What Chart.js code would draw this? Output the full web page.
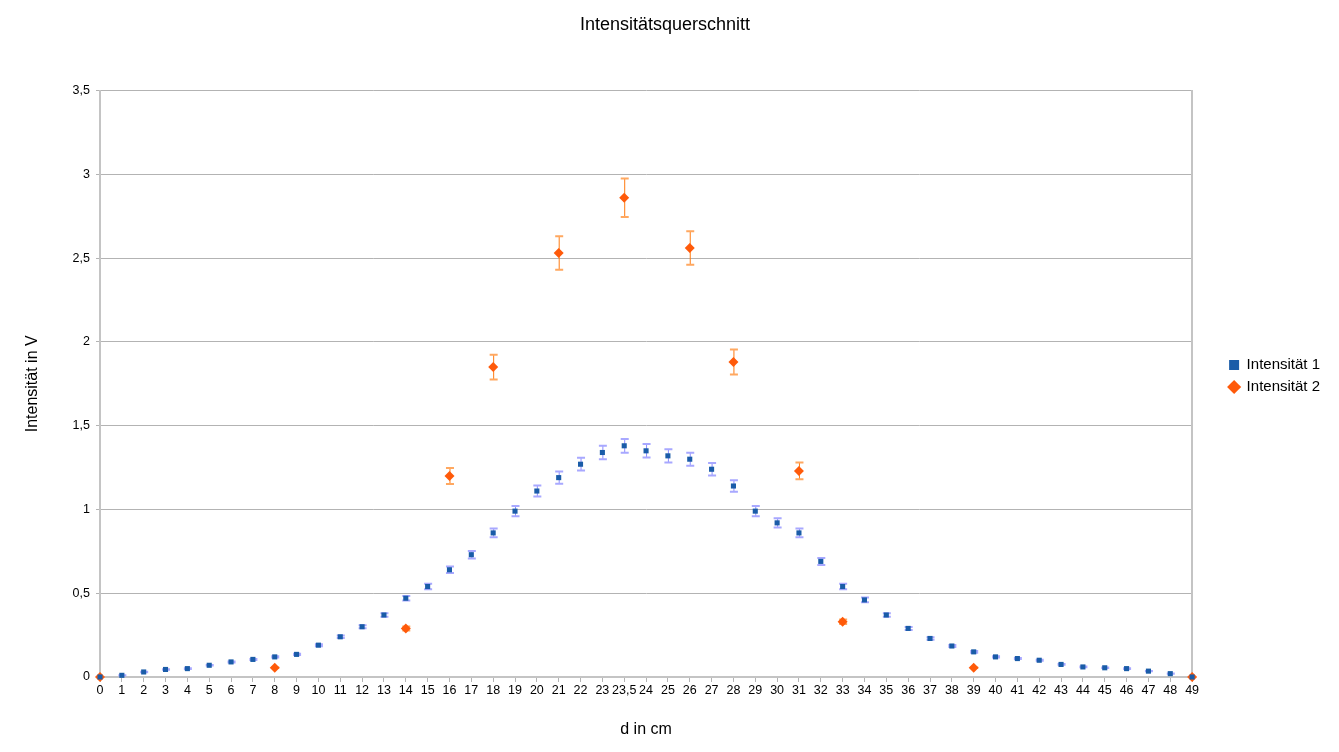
<!DOCTYPE html>
<html>
<head>
<meta charset="utf-8">
<script src="https://cdn.jsdelivr.net/npm/chart.js@4.4.1/dist/chart.umd.min.js"></script>
<style>
  html, body { margin: 0; padding: 0; background: #fff; }
  #wrap { width: 1339px; height: 752px; }
</style>
</head>
<body>
<div id="wrap"><canvas id="grafico"></canvas></div>
<script>
// Abstand d (cm) - Kategorien wie im Original
var labels = ['0', '1', '2', '3', '4', '5', '6', '7', '8', '9',
    '10', '11', '12', '13', '14', '15', '16', '17', '18', '19',
    '20', '21', '22', '23', '23,5', '24', '25', '26', '27', '28', '29',
    '30', '31', '32', '33', '34', '35', '36', '37', '38', '39',
    '40', '41', '42', '43', '44', '45', '46', '47', '48', '49'];

// Intensität 1 (V)
var intensitaet1 = [0, 0.01, 0.03, 0.045, 0.05, 0.07, 0.09, 0.105, 0.12, 0.135,
    0.19, 0.24, 0.30, 0.37, 0.47, 0.54, 0.64, 0.73, 0.86, 0.99,
    1.11, 1.19, 1.27, 1.34, 1.38, 1.35, 1.32, 1.30, 1.24, 1.14, 0.99,
    0.92, 0.86, 0.69, 0.54, 0.46, 0.37, 0.29, 0.23, 0.185, 0.15,
    0.12, 0.11, 0.10, 0.075, 0.06, 0.055, 0.05, 0.035, 0.02, 0];

var fehler1 = [0, 0.001, 0.001, 0.001, 0.002, 0.002, 0.003, 0.003, 0.004, 0.004,
    0.006, 0.007, 0.009, 0.011, 0.014, 0.016, 0.019, 0.022, 0.026, 0.03,
    0.033, 0.036, 0.038, 0.04, 0.041, 0.04, 0.04, 0.039, 0.037, 0.034, 0.03,
    0.028, 0.026, 0.021, 0.016, 0.014, 0.011, 0.009, 0.007, 0.006, 0.005,
    0.004, 0.003, 0.003, 0.002, 0.002, 0.002, 0.002, 0.001, 0.001, 0];

// Intensität 2 (V), nur an einigen Stellen gemessen
var intensitaet2 = [0, null, null, null, null, null, null, null, 0.055, null,
    null, null, null, null, 0.29, null, 1.20, null, 1.85, null,
    null, 2.53, null, null, 2.86, null, null, 2.56, null, 1.88, null,
    null, 1.23, null, 0.33, null, null, null, null, null, 0.055,
    null, null, null, null, null, null, null, null, null, 0];

var fehler2 = [0, null, null, null, null, null, null, null, 0.002, null,
    null, null, null, null, 0.012, null, 0.048, null, 0.074, null,
    null, 0.10, null, null, 0.115, null, null, 0.10, null, 0.075, null,
    null, 0.05, null, 0.013, null, null, null, null, null, 0.002,
    null, null, null, null, null, null, null, null, null, 0];

var schrift = "'Liberation Sans', Arial, sans-serif";

// Fehlerbalken zeichnen
var fehlerbalken = {
    id: 'fehlerbalken',
    beforeDatasetsDraw(chart) {
        var ctx = chart.ctx;
        var y = chart.scales.y;
        chart.data.datasets.forEach((ds, i) => {
            if (!ds.fehler) return;
            var meta = chart.getDatasetMeta(i);
            ctx.save();
            meta.data.forEach((pt, j) => {
                var v = ds.data[j];
                var e = ds.fehler[j];
                if (v == null || !e) return;
                var x = pt.x;
                var oben = y.getPixelForValue(v + e);
                var unten = y.getPixelForValue(v - e);
                ctx.strokeStyle = ds.fehlerFarbe;
                ctx.lineWidth = 1;
                ctx.beginPath();
                ctx.moveTo(x + 0.5, oben);
                ctx.lineTo(x + 0.5, unten);
                ctx.stroke();
                ctx.strokeStyle = ds.kappenFarbe;
                ctx.lineWidth = 2;
                ctx.beginPath();
                ctx.moveTo(x - 3.5, oben);
                ctx.lineTo(x + 4.5, oben);
                ctx.moveTo(x - 3.5, unten);
                ctx.lineTo(x + 4.5, unten);
                ctx.stroke();
            });
            ctx.restore();
        });
    }
};

var grafico = new Chart(document.getElementById('grafico').getContext('2d'), {
    type: 'line',
    data: {
        labels: labels,
        datasets: [{
            label: 'Intensität 1',
            data: intensitaet1,
            fehler: fehler1,
            fehlerFarbe: '#8c8cff',
            kappenFarbe: '#a8a8ff',
            showLine: false,
            pointStyle: 'rect',
            pointRadius: 3.6,
            borderWidth: 0,
            borderColor: '#1a5ca8',
            backgroundColor: '#1a5ca8',
            clip: false
        }, {
            label: 'Intensität 2',
            data: intensitaet2,
            fehler: fehler2,
            fehlerFarbe: '#ff7a10',
            kappenFarbe: '#ffa860',
            showLine: false,
            pointStyle: 'rectRot',
            pointRadius: 5,
            borderWidth: 0,
            borderColor: '#ff5a0a',
            backgroundColor: '#ff5a0a',
            clip: false
        }]
    },
    plugins: [fehlerbalken],
    options: {
        responsive: true,
        maintainAspectRatio: false,
        animation: false,
        locale: 'de-DE',
        layout: { padding: { left: 0, right: 9, top: 0, bottom: 0 } },
        font: { family: schrift },
        plugins: {
            tooltip: { enabled: false },
            title: {
                display: true,
                text: 'Intensitätsquerschnitt',
                color: '#000',
                font: { family: schrift, size: 18, weight: 'normal' },
                padding: { top: 14, bottom: 55 }
            },
            legend: {
                position: 'right',
                labels: {
                    usePointStyle: true,
                    color: '#000',
                    font: { family: schrift, size: 15 },
                    boxWidth: 10,
                    boxHeight: 10,
                    padding: 7
                }
            }
        },
        scales: {
            x: {
                offset: false,
                afterFit: function (s) { s.height = 75; },
                grid: {
                    drawOnChartArea: false,
                    drawTicks: true,
                    tickLength: 5,
                    color: '#b3b3b3'
                },
                border: { display: true, color: '#c4c4c4', width: 2 },
                ticks: {
                    autoSkip: false,
                    maxRotation: 0,
                    padding: 1,
                    color: '#000',
                    font: { family: schrift, size: 12.5 }
                },
                title: {
                    display: true,
                    text: 'd in cm',
                    color: '#000',
                    font: { family: schrift, size: 16 },
                    padding: { top: 0, bottom: 13 }
                }
            },
            y: {
                min: 0,
                max: 3.5,
                afterFit: function (s) { s.width = 100; },
                ticks: {
                    stepSize: 0.5,
                    padding: 6,
                    color: '#000',
                    font: { family: schrift, size: 12.5 },
                    callback: function (wert) {
                        return String(wert).replace('.', ',');
                    }
                },
                grid: {
                    color: '#b3b3b3',
                    tickLength: 4
                },
                border: { display: true, color: '#c4c4c4', width: 2 },
                title: {
                    display: true,
                    text: 'Intensität in V',
                    color: '#000',
                    font: { family: schrift, size: 16 },
                    padding: { top: 23, bottom: 0 }
                }
            },
            rechts: {
                position: 'right',
                min: 0,
                max: 3.5,
                afterFit: function (s) { s.width = 30; },
                ticks: { display: false },
                grid: { display: false },
                border: { display: true, color: '#c4c4c4', width: 2 }
            }
        }
    }
});
</script>
</body>
</html>
